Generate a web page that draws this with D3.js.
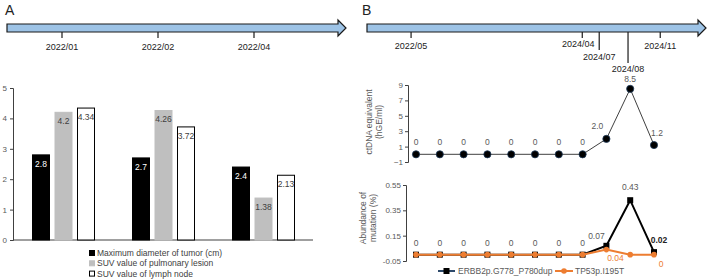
<!DOCTYPE html>
<html>
<head>
<meta charset="utf-8">
<script src="https://cdn.jsdelivr.net/npm/d3@7"></script>
<style>
  body { margin: 0; background: #fff; }
  svg { display: block; font-family: "Liberation Sans", Arial, sans-serif; }
</style>
</head>
<body>
<div id="chart"></div>
<script>
// ---- data ----
const timelineA = ["2022/01", "2022/02", "2022/04"];
const timelineB = ["2022/05", "2024/04", "2024/07", "2024/08", "2024/11"];
const timelineBPos = [13, 63.5, 68.5, 77, 86.5]; // schematic placement along arrow (0-100)

const barSeries = ["Maximum diameter of tumor (cm)", "SUV value of pulmonary lesion", "SUV value of lymph node"];
const tumorDiameter = [2.8, 2.7, 2.4];
const suvLesion = [4.2, 4.26, 1.38];
const suvLymph = [4.34, 3.72, 2.13];
const barTicks = [0, 1, 2, 3, 4, 5];

const samples = d3.range(11);
const ctDNA = [0, 0, 0, 0, 0, 0, 0, 0, 2.0, 8.5, 1.2];
const ctDNALabels = ["0", "0", "0", "0", "0", "0", "0", "0", "2.0", "8.5", "1.2"];
const ctTicks = [-1, 1, 3, 5, 7, 9];

const mutSeries = ["ERBB2p.G778_P780dup", "TP53p.I195T"];
const erbb2 = [0, 0, 0, 0, 0, 0, 0, 0, 0.07, 0.43, 0.02];
const erbb2Labels = ["0", "0", "0", "0", "0", "0", "0", "0", "0.07", "0.43", "0.02"];
const tp53 = [0, 0, 0, 0, 0, 0, 0, 0, 0.04, 0, 0];
const tp53Labels = ["", "", "", "", "", "", "", "", "0.04", "", "0"];
const mutTicks = [-0.05, 0.15, 0.35, 0.55];

// ---- setup ----
const W = 708, H = 280;
const svg = d3.select("#chart").append("svg")
    .attr("width", W).attr("height", H).attr("viewBox", [0, 0, W, H]);

const grey = "#595959";

// timeline arrow helper
function drawArrow(x0, x1) {
    const yT = 24, yB = 32, hT = 20, hB = 36, hx = x1 - 8;
    svg.append("path")
        .attr("d", `M${x0},${yT}L${hx},${yT}L${hx},${hT}L${x1},${(yT + yB) / 2}L${hx},${hB}L${hx},${yB}L${x0},${yB}Z`)
        .attr("fill", "#9dc3e6")
        .attr("stroke", "#1a1a1a")
        .attr("stroke-width", 1.2);
}

// ---- panel A ----
svg.append("text").attr("x", 5).attr("y", 15).attr("font-size", 14).attr("fill", "#222").text("A");
drawArrow(7, 346);
const xTA = d3.scalePoint().domain(timelineA).range([62, 254]);
const tA = svg.append("g");
timelineA.forEach(d => {
    tA.append("line").attr("x1", xTA(d)).attr("x2", xTA(d)).attr("y1", 32).attr("y2", 38)
        .attr("stroke", "#1a1a1a").attr("stroke-width", 1.2);
    tA.append("text").attr("x", xTA(d)).attr("y", 50).attr("text-anchor", "middle")
        .attr("font-size", 9).attr("fill", "#222").text(d);
});

// bar chart
const xA = d3.scaleBand().domain(timelineA).range([13, 313]);
const xInner = d3.scaleBand().domain(barSeries).range([19, 82]).paddingInner(0.2);
const yA = d3.scaleLinear().domain([0, 5]).range([240, 88]);

const yAxisA = svg.append("g").attr("transform", "translate(13,0)")
    .call(d3.axisLeft(yA).tickValues(barTicks).tickSize(3).tickFormat(d3.format("d")));
yAxisA.select(".domain").attr("stroke", "#404040");
yAxisA.selectAll(".tick line").attr("stroke", "#404040");
yAxisA.selectAll(".tick text").attr("fill", grey).attr("font-size", 8)
    .attr("font-family", "Liberation Sans, Arial, sans-serif").attr("x", -6);
svg.append("line").attr("x1", 13).attr("x2", 313).attr("y1", yA(0)).attr("y2", yA(0))
    .attr("stroke", "#404040").attr("stroke-width", 1);

const barStyles = [
    { fill: "#000", stroke: "#000", text: "#fff" },
    { fill: "#bfbfbf", stroke: "#bfbfbf", text: "#404040" },
    { fill: "#fff", stroke: "#000", text: "#404040" }
];
const barData = [tumorDiameter, suvLesion, suvLymph];
const barFmt = v => String(v);
barSeries.forEach((s, si) => {
    const g = svg.append("g");
    g.selectAll("rect").data(timelineA).join("rect")
        .attr("x", d => xA(d) + xInner(s) + 0.5)
        .attr("y", (d, i) => yA(barData[si][i]))
        .attr("width", xInner.bandwidth() - 1)
        .attr("height", (d, i) => yA(0) - yA(barData[si][i]))
        .attr("fill", barStyles[si].fill)
        .attr("stroke", barStyles[si].stroke)
        .attr("stroke-width", 1);
    g.selectAll("text").data(timelineA).join("text")
        .attr("x", d => xA(d) + xInner(s) + xInner.bandwidth() / 2)
        .attr("y", (d, i) => yA(barData[si][i]) + 12)
        .attr("text-anchor", "middle")
        .attr("font-size", 8.5)
        .attr("fill", barStyles[si].text)
        .text((d, i) => barFmt(barData[si][i]));
});

// legend A
const legA = svg.append("g").attr("transform", "translate(89,250)");
barSeries.forEach((s, i) => {
    legA.append("rect").attr("x", 0.5).attr("y", i * 10.3 + 0.5).attr("width", 5).attr("height", 5)
        .attr("fill", barStyles[i].fill).attr("stroke", barStyles[i].stroke);
    legA.append("text").attr("x", 8).attr("y", i * 10.3 + 6).attr("font-size", 8.5)
        .attr("fill", "#404040").text(s);
});

// ---- panel B ----
svg.append("text").attr("x", 362).attr("y", 15).attr("font-size", 14).attr("fill", "#222").text("B");
drawArrow(367, 706);
const xTB = d3.scaleLinear().domain([0, 100]).range([367, 706]);
const tickLen = [6, 6, 18, 31, 6];
const labelY = [49, 47, 60, 72, 49];
const labelDx = [0, -4, 0, 0, 0];
timelineB.forEach((d, i) => {
    const x = xTB(timelineBPos[i]);
    svg.append("line").attr("x1", x).attr("x2", x).attr("y1", 32).attr("y2", 32 + tickLen[i])
        .attr("stroke", "#1a1a1a").attr("stroke-width", 1.2);
    svg.append("text").attr("x", x + labelDx[i]).attr("y", labelY[i]).attr("text-anchor", "middle")
        .attr("font-size", 9).attr("fill", "#222").text(d);
});

// top chart: ctDNA
const xS = d3.scalePoint().domain(samples).range([416, 654]);
const yC = d3.scaleLinear().domain([-1, 9]).range([162, 85]);
const yAxisC = svg.append("g").attr("transform", "translate(408,0)")
    .call(d3.axisLeft(yC).tickValues(ctTicks).tickSize(3));
yAxisC.select(".domain").attr("stroke", "#404040");
yAxisC.selectAll(".tick line").attr("stroke", "#404040");
yAxisC.selectAll(".tick text").attr("fill", grey).attr("font-size", 8)
    .attr("font-family", "Liberation Sans, Arial, sans-serif").attr("x", -5);
svg.append("text").attr("transform", "translate(375,122) rotate(-90)").attr("text-anchor", "middle")
    .attr("font-size", 8.5).attr("fill", grey)
    .selectAll("tspan").data(["ctDNA equivalent", "(hGE/ml)"]).join("tspan")
    .attr("x", 0).attr("dy", (d, i) => i ? 10 : -3).text(d => d);

svg.append("path").datum(ctDNA)
    .attr("d", d3.line().x((d, i) => xS(i)).y(d => yC(d)))
    .attr("fill", "none").attr("stroke", "#404040").attr("stroke-width", 1);
svg.append("g").selectAll("circle").data(ctDNA).join("circle")
    .attr("cx", (d, i) => xS(i)).attr("cy", d => yC(d)).attr("r", 3.6)
    .attr("fill", "#000").attr("stroke", "#1f3b5a").attr("stroke-width", 0.8);
const ctOff = [[0, -9], [0, -9], [0, -9], [0, -9], [0, -9], [0, -9], [0, -9], [0, -9], [-9, -10], [0, -7], [3, -9]];
svg.append("g").selectAll("text").data(ctDNA).join("text")
    .attr("x", (d, i) => xS(i) + ctOff[i][0]).attr("y", (d, i) => yC(d) + ctOff[i][1])
    .attr("text-anchor", "middle").attr("font-size", 8.5).attr("fill", grey)
    .text((d, i) => ctDNALabels[i]);

// bottom chart: mutation abundance
const yM = d3.scaleLinear().domain([-0.05, 0.55]).range([261, 185]);
const yAxisM = svg.append("g").attr("transform", "translate(406,0)")
    .call(d3.axisLeft(yM).tickValues(mutTicks).tickSize(3).tickFormat(d3.format(".2f")));
yAxisM.select(".domain").attr("stroke", "#404040");
yAxisM.selectAll(".tick line").attr("stroke", "#404040");
yAxisM.selectAll(".tick text").attr("fill", grey).attr("font-size", 8)
    .attr("font-family", "Liberation Sans, Arial, sans-serif").attr("x", -5)
    .text(d => d < 0 ? "-0.05" : d3.format(".2f")(d));
svg.append("text").attr("transform", "translate(369,218) rotate(-90)").attr("text-anchor", "middle")
    .attr("font-size", 8.5).attr("fill", grey)
    .selectAll("tspan").data(["Abundance of", "mutation (%)"]).join("tspan")
    .attr("x", 0).attr("dy", (d, i) => i ? 10 : -3).text(d => d);

const lineM = d3.line().x((d, i) => xS(i)).y(d => yM(d));
svg.append("path").datum(erbb2).attr("d", lineM)
    .attr("fill", "none").attr("stroke", "#000").attr("stroke-width", 2);
svg.append("g").selectAll("rect").data(erbb2).join("rect")
    .attr("x", (d, i) => xS(i) - 3).attr("y", d => yM(d) - 3).attr("width", 6).attr("height", 6)
    .attr("fill", "#000");
svg.append("path").datum(tp53).attr("d", lineM)
    .attr("fill", "none").attr("stroke", "#ed7d31").attr("stroke-width", 2);
svg.append("g").selectAll("circle").data(tp53).join("circle")
    .attr("cx", (d, i) => xS(i)).attr("cy", d => yM(d)).attr("r", 2.8)
    .attr("fill", "#ed7d31");

const erOff = [[0, -9], [0, -9], [0, -9], [0, -9], [0, -9], [0, -9], [0, -9], [0, -9], [-10, -7], [0, -10], [5, -9]];
svg.append("g").selectAll("text").data(erbb2).join("text")
    .attr("x", (d, i) => xS(i) + erOff[i][0]).attr("y", (d, i) => yM(d) + erOff[i][1])
    .attr("text-anchor", "middle").attr("font-size", 8.5)
    .attr("fill", (d, i) => i === 10 ? "#222" : grey)
    .attr("font-weight", (d, i) => i === 10 ? "bold" : "normal")
    .text((d, i) => erbb2Labels[i]);
const tpOff = [0, 0, 0, 0, 0, 0, 0, 0, [9, 11], 0, [7, 12]];
svg.append("g").selectAll("text").data(tp53).join("text")
    .attr("x", (d, i) => xS(i) + (tpOff[i] ? tpOff[i][0] : 0))
    .attr("y", (d, i) => yM(d) + (tpOff[i] ? tpOff[i][1] : 0))
    .attr("text-anchor", "middle").attr("font-size", 8.5).attr("fill", "#ed7d31")
    .text((d, i) => tp53Labels[i]);

// legend B
const legB = svg.append("g").attr("transform", "translate(438,271)");
legB.append("line").attr("x1", 0).attr("x2", 17).attr("y1", 0).attr("y2", 0)
    .attr("stroke", "#2e4a6b").attr("stroke-width", 2);
legB.append("rect").attr("x", 5.5).attr("y", -3).attr("width", 6).attr("height", 6).attr("fill", "#000");
legB.append("text").attr("x", 20).attr("y", 3).attr("font-size", 8.5).attr("fill", grey).text(mutSeries[0]);
legB.append("line").attr("x1", 117).attr("x2", 135).attr("y1", 0).attr("y2", 0)
    .attr("stroke", "#ed7d31").attr("stroke-width", 2);
legB.append("circle").attr("cx", 126).attr("cy", 0).attr("r", 2.8).attr("fill", "#ed7d31");
legB.append("text").attr("x", 137).attr("y", 3).attr("font-size", 8.5).attr("fill", grey).text(mutSeries[1]);
</script>
</body>
</html>
